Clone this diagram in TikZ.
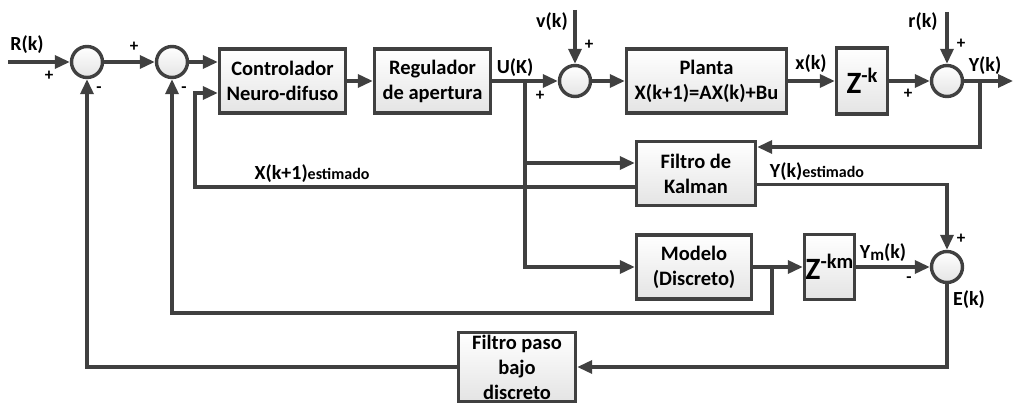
\documentclass[tikz,border=0pt]{standalone}
\usepackage{fontspec}
\setmainfont{Carlito}
\usetikzlibrary{arrows.meta}

\definecolor{linec}{HTML}{404040}
\definecolor{boxlo}{HTML}{E4E4E4}

\tikzset{
  blk/.style={draw=linec, line width=3.4pt, top color=white, bottom color=boxlo,
    align=center, minimum height=64pt, inner sep=2pt,
    font=\fontsize{20.5}{25}\selectfont\bfseries},
  sumc/.style={circle, draw=linec, line width=3.4pt, top color=white,
    bottom color=boxlo, minimum size=31pt, inner sep=0pt},
  sig/.style={draw=linec, line width=3.4pt, -{Triangle[length=15pt,width=13pt]}},
  wire/.style={draw=linec, line width=3.4pt},
  lbl/.style={font=\fontsize{20}{24}\selectfont\bfseries, inner sep=0pt},
  sgn/.style={font=\fontsize{17}{17}\selectfont\bfseries, inner sep=0pt},
}
\newcommand{\zpow}[1]{{\fontsize{31}{31}\selectfont Z}\raisebox{11pt}{#1}}

\begin{document}
\begin{tikzpicture}[x=1pt, y=-1pt]
\useasboundingbox (0,0) rectangle (1013,403);

% sumadores
\node[sumc] (s1) at (87,62) {};
\node[sumc] (s2) at (172,62) {};
\node[sumc] (s3) at (575,81) {};
\node[sumc] (s4) at (947,81) {};
\node[sumc] (s5) at (947,267) {};

% bloques
\node[blk, minimum width=126pt] (ctrl) at (282.5,81) {Controlador\\Neuro-difuso};
\node[blk, minimum width=116pt] (reg) at (432.5,81) {Regulador\\de apertura};
\node[blk, minimum width=160pt] (planta) at (706.5,81) {Planta\\X(k+1)=AX(k)+Bu};
\node[blk, minimum width=51pt, minimum height=66pt] (zk) at (862,81) {\zpow{-k}};
\node[blk, minimum width=119pt] (kalman) at (696,173.5) {Filtro de\\Kalman};
\node[blk, minimum width=115pt] (modelo) at (694,267) {Modelo\\(Discreto)};
\node[blk, minimum width=50pt, minimum height=65pt, inner sep=0pt] (zkm) at (829.5,267) {\zpow{-km}};
\node[blk, minimum width=117pt, minimum height=69pt] (lpf) at (517,367) {Filtro paso\\bajo\\discreto};

% entradas y puntos de bifurcacion
\coordinate (rin) at (8,62);
\coordinate (vin) at (575,10);
\coordinate (rkin) at (947,12);
\coordinate (yout) at (1013,81);
\coordinate (ub) at (525,81);
\coordinate (kin) at (525,163);
\coordinate (yb) at (980,81);
\coordinate (xloop) at (195,93);
\coordinate (mb) at (772,267);
\coordinate (mlow) at (772,313);

% lazo directo
\draw[sig] (rin) -- (s1.west);
\draw[sig] (s1.east) -- (s2.west);
\draw[sig] (s2.east) -- (s2.east -| ctrl.west);
\draw[sig] (ctrl.east) -- (reg.west);
\draw[sig] (reg.east) -- (s3.west);
\draw[sig] (vin) -- (s3.north);
\draw[sig] (s3.east) -- (planta.west);
\draw[sig] (planta.east) -- (zk.west);
\draw[sig] (zk.east) -- (s4.west);
\draw[sig] (rkin) -- (s4.north);
\draw[sig] (s4.east) -- (yout);

% estimador
\draw[sig] (yb) |- ([yshift=26.5pt]kalman.east);
\draw[sig] (kin) -- (kin -| kalman.west);
\draw[sig] ([yshift=-13.5pt]kalman.west) -| (xloop) -- (xloop -| ctrl.west);
\draw[sig] ([yshift=-11pt]kalman.east) -| (s5.north);

% modelo
\draw[sig] (ub) |- (modelo.west);
\draw[sig] (modelo.east) -- (zkm.west);
\draw[sig] (zkm.east) -- (s5.west);
\draw[sig] (mb) -- (mlow) -| (s2.south);

% filtro paso bajo
\draw[sig] (s5.south) |- (lpf.east);
\draw[sig] (lpf.west) -| (s1.south);

% etiquetas
\node[lbl] (lr) at (27,45) {R(k)};
\node[lbl] (lu) at (515,68) {U(K)};
\node[lbl] (lv) at (552,22) {v(k)};
\node[lbl] (lx) at (811,64) {x(k)};
\node[lbl] (lrk) at (923,22) {r(k)};
\node[lbl] (ly) at (985,66) {Y(k)};
\node[lbl] (lxe) at (312,174) {X(k+1){\fontsize{16}{16}\selectfont estimado}};
\node[lbl] (lye) at (817,172) {Y(k){\fontsize{16}{16}\selectfont estimado}};
\node[lbl] (lym) at (883,253) {Y\raisebox{-2pt}{\fontsize{17}{17}\selectfont m}(k)};
\node[lbl] (le) at (969,300) {E(k)};

% signos
\node[sgn] at (49,76) {+};
\node[sgn] at (99,90) {-};
\node[sgn] at (134,47) {+};
\node[sgn] at (184,90) {-};
\node[sgn] at (540,96) {+};
\node[sgn] at (589,45) {+};
\node[sgn] at (908,94) {+};
\node[sgn] at (961,44) {+};
\node[sgn] at (961,239) {+};
\node[sgn] at (909,280) {-};
\end{tikzpicture}
\end{document}
